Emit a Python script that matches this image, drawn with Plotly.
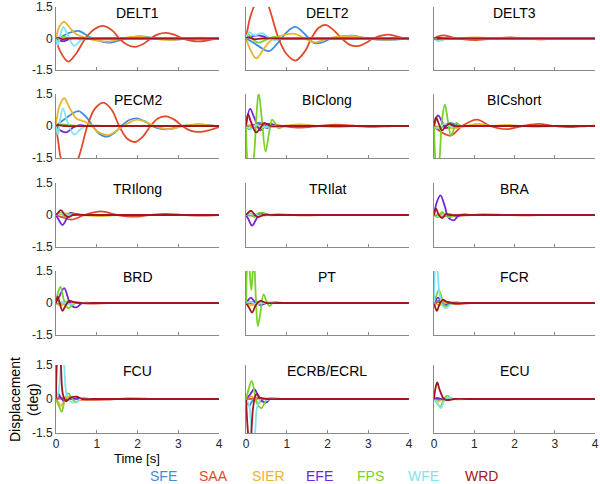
import plotly.graph_objects as go

W, H = 600, 484

SERIES = ["SFE", "SAA", "SIER", "EFE", "FPS", "WFE", "WRD"]
COLORS = ["#3d8ee0", "#e04a2a", "#e8b530", "#7025d8", "#7ad12a", "#80e4f2", "#a3161c"]
PANELS = ["DELT1", "DELT2", "DELT3", "PECM2", "BIClong", "BICshort",
          "TRIlong", "TRIlat", "BRA", "BRD", "PT", "FCR", "FCU", "ECRB/ECRL", "ECU"]
X_TICKS = [0, 1, 2, 3, 4]
Y_TICKS = [-1.5, 0, 1.5]
Y_TICK_TEXT = ["-1.5", "0", "1.5"]

# line at rest (zero) for the rest of the 4 s window
REST = [(1.5, 0), (2.5, 0), (3.5, 0), (4, 0)]

# keypoints (time [s], displacement [deg])
DELT1 = {
    "SFE": [(0,0),(0.1,0.05),(0.3,0.25),(0.55,0.36),(0.85,0.05),(1.3,-0.2),(1.7,0),(2.05,0.1),(2.5,0),(2.9,-0.05),(3.5,0.02),(4,0)],
    "SAA": [(0,0),(0.1,-0.6),(0.3,-1.1),(0.5,-0.7),(0.72,0),(0.95,0.45),(1.16,0.6),(1.4,0.35),(1.55,0),(1.75,-0.3),(1.94,-0.4),(2.15,-0.25),(2.32,0),(2.5,0.2),(2.7,0.27),(2.9,0.18),(3.1,0),(3.3,-0.1),(3.5,-0.14),(3.7,-0.1),(3.9,-0.02),(4,0.02)],
    "SIER": [(0,0),(0.08,0.55),(0.2,0.8),(0.32,0.55),(0.5,0.2),(0.75,0.02),(1.0,-0.1),(1.3,-0.15),(1.6,0),(2.0,0.1),(2.4,0),(2.75,-0.07),(3.2,0),(3.5,0.04),(4,0)],
    "EFE": [(0,0),(0.1,-0.1),(0.2,-0.12),(0.4,0.02),(0.6,0)] + REST,
    "FPS": [(0,0),(0.04,-0.2),(0.1,0.05),(0.2,0.08),(0.35,0),(0.7,0)] + REST,
    "WFE": [(0,0),(0.05,-0.3),(0.1,0.1),(0.18,0.55),(0.28,0.2),(0.45,-0.35),(0.6,-0.1),(0.8,0.05),(1.0,0)] + REST,
    "WRD": [(0,0),(0.05,0.03),(0.15,-0.03),(0.3,0),(0.7,0)] + REST,
}
DELT2 = {
    "SFE": [(0,0),(0.1,-0.1),(0.3,-0.35),(0.56,-0.6),(0.85,-0.05),(1.0,0.3),(1.21,0.55),(1.45,0.2),(1.65,-0.2),(1.85,-0.2),(2.1,0),(2.6,0.13),(3.0,0),(3.4,-0.06),(4,0)],
    "SAA": [(0,0),(0.1,1.0),(0.19,1.5),(0.37,2.3),(0.56,1.5),(0.8,0),(1.0,-0.75),(1.21,-1.05),(1.45,-0.6),(1.6,0),(1.78,0.5),(1.95,0.65),(2.15,0.4),(2.35,0),(2.55,-0.3),(2.75,-0.36),(2.95,-0.2),(3.12,0),(3.35,0.15),(3.5,0.18),(3.7,0.1),(3.9,0),(4,-0.04)],
    "SIER": [(0,0),(0.1,-0.5),(0.25,-0.95),(0.4,-0.6),(0.6,-0.1),(0.8,0.1),(1.0,0.2),(1.2,0.22),(1.45,0),(1.7,-0.18),(2.0,0),(2.6,0.12),(3.0,0),(3.4,-0.05),(4,0)],
    "EFE": [(0,0),(0.15,0.1),(0.3,0.15),(0.5,0.05),(0.7,0)] + REST,
    "FPS": [(0,0),(0.05,0.2),(0.15,0),(0.3,-0.2),(0.5,-0.05),(0.7,0.08),(0.9,0)] + REST,
    "WFE": [(0,0),(0.08,0.3),(0.2,0.15),(0.4,0.25),(0.55,0.05),(0.7,-0.08),(0.9,0)] + REST,
    "WRD": [(0,0),(0.05,0.05),(0.2,-0.03),(0.4,0),(0.8,0)] + REST,
}
DELT3 = {
    "SFE": [(0,0),(0.15,-0.08),(0.3,0),(0.6,0.03),(1,0)] + REST,
    "SAA": [(0,0),(0.1,0.1),(0.25,0.15),(0.45,0.05),(0.7,-0.03),(1.1,-0.07),(1.5,0),(1.9,0.05),(2.3,0),(2.7,-0.04),(3.1,0),(3.5,0.03),(4,0)],
    "SIER": [(0,0),(0.15,-0.1),(0.3,0),(0.6,0.02),(1.1,0.05),(1.5,0),(1.9,-0.03),(2.3,0),(3,0),(4,0)],
    "EFE": [(0,0),(0.1,0.03),(0.3,0),(0.8,0)] + REST,
    "FPS": [(0,0),(0.1,-0.05),(0.25,0),(0.8,0)] + REST,
    "WFE": [(0,0),(0.1,-0.12),(0.2,-0.05),(0.35,0),(0.8,0)] + REST,
    "WRD": [(0,0),(0.8,0)] + REST,
}
PECM2 = {
    "SFE": [(0,0),(0.2,0.3),(0.55,0.7),(0.75,0.4),(0.9,0),(1.05,-0.35),(1.25,-0.5),(1.45,-0.3),(1.6,0),(1.8,0.28),(2.0,0.35),(2.2,0.2),(2.35,0),(2.55,-0.12),(2.75,-0.15),(2.95,-0.08),(3.1,0),(3.5,0.08),(3.9,0),(4,-0.02)],
    "SAA": [(0,0),(0.06,-0.8),(0.12,-1.5),(0.33,-2.3),(0.55,-1.5),(0.77,0),(0.95,0.8),(1.16,1.1),(1.37,0.75),(1.55,0),(1.75,-0.6),(1.94,-0.75),(2.13,-0.5),(2.32,0),(2.5,0.35),(2.7,0.45),(2.9,0.3),(3.1,0),(3.3,-0.22),(3.5,-0.28),(3.75,-0.2),(4,-0.05)],
    "SIER": [(0,0),(0.08,0.9),(0.2,1.3),(0.32,0.9),(0.5,0.35),(0.7,0.2),(0.85,0.05),(1.05,-0.3),(1.3,-0.42),(1.5,-0.2),(1.65,0),(2.0,0.3),(2.3,0.1),(2.5,-0.05),(2.8,-0.15),(3.1,0),(3.5,0.08),(3.9,0),(4,-0.02)],
    "EFE": [(0,0),(0.1,-0.2),(0.25,-0.3),(0.4,-0.1),(0.55,0.03),(0.8,0)] + REST,
    "FPS": [(0,0),(0.03,-0.35),(0.1,0.05),(0.3,0.05),(0.5,0),(0.9,0)] + REST,
    "WFE": [(0,0),(0.05,-0.4),(0.1,0.3),(0.17,0.83),(0.28,0.2),(0.45,-0.4),(0.6,-0.15),(0.75,0),(1.0,0.03),(1.2,0)] + REST,
    "WRD": [(0,0),(0.05,0.05),(0.2,0),(0.7,0)] + REST,
}
BICLONG = {
    "SFE": [(0,0),(0.08,-0.15),(0.2,0.05),(0.35,0.15),(0.5,-0.1),(0.65,0),(1.0,0)] + REST,
    "SAA": [(0,0),(0.2,0.05),(0.5,0.1),(0.9,0),(1.3,-0.08),(1.8,0),(2.2,0.06),(2.7,0),(3.1,-0.04),(3.6,0),(4,0)],
    "SIER": [(0,0),(0.3,-0.05),(0.9,0),(1.3,0.08),(1.8,0),(2.2,-0.05),(2.7,0),(3.3,0),(4,0)],
    "EFE": [(0,0),(0.1,0.8),(0.2,0.4),(0.35,-0.2),(0.5,0.05),(0.6,0.1),(0.75,0),(1.0,0)] + REST,
    "FPS": [(0,0),(0.03,-1.5),(0.1,-2.3),(0.19,-1.5),(0.25,0.3),(0.31,1.55),(0.39,0.3),(0.48,-1.2),(0.56,-0.4),(0.64,0.3),(0.72,0.1),(0.8,-0.1),(0.95,0),(1.1,0)] + REST,
    "WFE": [(0,0),(0.12,-0.15),(0.25,0.05),(0.4,-0.05),(0.55,0),(0.9,0)] + REST,
    "WRD": [(0,0),(0.05,0.55),(0.12,0.2),(0.25,-0.3),(0.35,-0.1),(0.45,0.15),(0.6,0),(0.9,0)] + REST,
}
BICSHORT = {
    "SFE": [(0,0),(0.1,-0.15),(0.2,-0.05),(0.4,0.15),(0.55,0.05),(0.7,0),(1.0,0)] + REST,
    "SAA": [(0,0),(0.15,-0.25),(0.41,-0.45),(0.7,0),(1.07,0.3),(1.4,0),(1.8,-0.15),(2.2,0),(2.6,0.1),(3.0,0),(3.4,-0.05),(3.8,0),(4,0.02)],
    "SIER": [(0,0),(0.2,-0.05),(0.5,-0.1),(0.8,0),(1.1,0.1),(1.4,0),(1.8,0.05),(2.2,0),(2.6,-0.04),(3,0),(4,0)],
    "EFE": [(0,0),(0.1,0.5),(0.2,0.2),(0.3,-0.1),(0.45,0.05),(0.6,0),(0.9,0)] + REST,
    "FPS": [(0,0),(0.03,-1.5),(0.08,-2.5),(0.14,-1.5),(0.2,0.3),(0.27,1.0),(0.34,0.3),(0.42,-0.45),(0.5,-0.1),(0.56,0.15),(0.65,0),(0.9,0)] + REST,
    "WFE": [(0,0),(0.1,-0.1),(0.25,0.1),(0.4,0),(0.8,0)] + REST,
    "WRD": [(0,0),(0.05,0.4),(0.12,0.1),(0.2,-0.2),(0.3,0),(0.38,0.1),(0.5,0),(0.8,0)] + REST,
}
TRILONG = {
    "SFE": [(0,0),(0.1,0.1),(0.25,-0.05),(0.45,0.05),(0.6,0),(0.9,0)] + REST,
    "SAA": [(0,0),(0.15,-0.1),(0.38,-0.22),(0.7,0),(1.1,0.17),(1.5,0),(1.9,-0.08),(2.3,0),(2.7,0.05),(3.1,0),(3.5,-0.03),(4,0)],
    "SIER": [(0,0),(0.15,0.05),(0.4,0.08),(0.7,0),(1.1,-0.05),(1.5,0),(2.5,0),(3.5,0),(4,0)],
    "EFE": [(0,0),(0.06,-0.2),(0.16,-0.47),(0.27,-0.15),(0.35,0.1),(0.45,0.05),(0.6,0),(0.9,0)] + REST,
    "FPS": [(0,0),(0.08,0.12),(0.2,-0.05),(0.35,0.05),(0.5,0),(0.8,0)] + REST,
    "WFE": [(0,0),(0.1,0.08),(0.25,0),(0.6,0)] + REST,
    "WRD": [(0,0),(0.05,0.1),(0.12,0.23),(0.22,0),(0.3,-0.1),(0.42,0),(0.7,0)] + REST,
}
TRILAT = {
    "SFE": [(0,0),(0.1,0.05),(0.3,0),(0.7,0)] + REST,
    "SAA": [(0,0),(0.3,-0.03),(0.8,0.03),(1.4,-0.02),(2.0,0),(2.5,0),(3.5,0),(4,0)],
    "SIER": [(0,0),(0.2,0.03),(0.5,0),(0.9,0)] + REST,
    "EFE": [(0,0),(0.06,-0.2),(0.15,-0.5),(0.25,-0.2),(0.35,0.1),(0.45,0.05),(0.6,0),(0.9,0)] + REST,
    "FPS": [(0,0),(0.08,0.1),(0.2,-0.1),(0.3,0.08),(0.42,0.1),(0.55,0),(0.9,0)] + REST,
    "WFE": [(0,0),(0.15,0.05),(0.35,-0.03),(0.5,0),(0.9,0)] + REST,
    "WRD": [(0,0),(0.05,0.1),(0.12,0.2),(0.22,0),(0.3,-0.1),(0.42,0),(0.7,0)] + REST,
}
BRA = {
    "SFE": [(0,0),(0.15,-0.05),(0.3,0.05),(0.5,0),(0.9,0)] + REST,
    "SAA": [(0,0),(0.3,-0.05),(0.7,-0.03),(1.2,0.03),(1.8,0),(2.3,-0.02),(2.8,0),(3.5,0),(4,0)],
    "SIER": [(0,0),(0.2,0.05),(0.5,0),(0.9,0)] + REST,
    "EFE": [(0,0),(0.07,0.6),(0.16,0.92),(0.27,0.4),(0.35,-0.1),(0.49,-0.25),(0.6,-0.05),(0.75,0.03),(0.9,0),(1.1,0)] + REST,
    "FPS": [(0,0),(0.1,-0.1),(0.2,0.15),(0.3,-0.05),(0.4,-0.1),(0.55,0),(0.9,0)] + REST,
    "WFE": [(0,0),(0.15,-0.05),(0.3,0.05),(0.45,0),(0.8,0)] + REST,
    "WRD": [(0,0),(0.05,0.3),(0.12,0),(0.2,-0.15),(0.3,0.05),(0.4,0),(0.7,0)] + REST,
}
BRD = {
    "SFE": [(0,0),(0.1,-0.1),(0.25,0),(0.4,0.05),(0.6,0),(0.9,0)] + REST,
    "SAA": [(0,0),(0.3,0.03),(0.8,-0.03),(1.3,0),(1.8,0),(2.5,0),(3.5,0),(4,0)],
    "SIER": [(0,0),(0.12,-0.1),(0.3,0.1),(0.5,0),(0.8,0)] + REST,
    "EFE": [(0,0),(0.08,0.3),(0.2,0.7),(0.32,0.1),(0.4,-0.15),(0.5,-0.2),(0.65,0),(0.9,0)] + REST,
    "FPS": [(0,0),(0.05,0.5),(0.11,0.75),(0.2,0.1),(0.3,-0.25),(0.4,-0.1),(0.5,0),(0.8,0)] + REST,
    "WFE": [(0,0),(0.1,0.05),(0.3,-0.05),(0.5,0),(0.8,0)] + REST,
    "WRD": [(0,0),(0.04,0.3),(0.09,0),(0.16,-0.37),(0.24,-0.1),(0.33,0.1),(0.45,0.03),(0.6,0),(0.9,0)] + REST,
}
PT = {
    "SFE": [(0,0),(0.1,0.05),(0.3,-0.05),(0.5,0),(0.8,0)] + REST,
    "SAA": [(0,0),(0.2,-0.03),(0.5,0.02),(1,0)] + REST,
    "SIER": [(0,0),(0.15,-0.1),(0.3,0.05),(0.45,0),(0.8,0)] + REST,
    "EFE": [(0,0),(0.06,0.15),(0.12,0.25),(0.22,0.05),(0.35,-0.1),(0.5,0),(0.8,0)] + REST,
    "FPS": [(0,0),(0.02,1.5),(0.05,2.4),(0.09,1.5),(0.13,0.6),(0.17,1.5),(0.2,1.8),(0.24,0.3),(0.29,-1.08),(0.35,-0.5),(0.43,0.4),(0.5,0.1),(0.58,-0.15),(0.65,0),(0.72,0.05),(0.85,0),(1.1,0)] + REST,
    "WFE": [(0,0),(0.1,0.05),(0.25,-0.05),(0.4,0),(0.8,0)] + REST,
    "WRD": [(0,0),(0.07,-0.2),(0.15,-0.45),(0.24,-0.1),(0.35,0.1),(0.5,0),(0.8,0)] + REST,
}
FCR = {
    "SFE": [(0,0),(0.1,0.1),(0.25,-0.1),(0.4,0),(0.8,0)] + REST,
    "SAA": [(0,0),(0.2,0.05),(0.5,-0.05),(0.9,0),(1.2,0)] + REST,
    "SIER": [(0,0),(0.15,-0.1),(0.35,0.05),(0.5,0),(0.8,0)] + REST,
    "EFE": [(0,0),(0.05,0.15),(0.1,0.25),(0.2,0),(0.3,-0.1),(0.45,0),(0.8,0)] + REST,
    "FPS": [(0,0),(0.05,0.3),(0.12,0.6),(0.2,0.2),(0.28,-0.15),(0.4,-0.05),(0.55,0),(0.9,0)] + REST,
    "WFE": [(0,0),(0.02,1.5),(0.05,2.3),(0.09,1.5),(0.14,0.4),(0.22,-0.15),(0.3,-0.25),(0.42,-0.05),(0.55,0.03),(0.7,0),(1.0,0)] + REST,
    "WRD": [(0,0),(0.03,-0.2),(0.07,-0.37),(0.14,-0.05),(0.22,0.15),(0.32,0.05),(0.45,0),(0.8,0)] + REST,
}
FCU = {
    "SFE": [(0,0),(0.08,0.1),(0.2,-0.05),(0.35,0),(0.7,0)] + REST,
    "SAA": [(0,0),(0.3,0.05),(0.6,-0.03),(1.2,-0.03),(1.8,0.03),(2.5,0),(3.5,0),(4,0)],
    "SIER": [(0,0),(0.06,-0.15),(0.12,-0.3),(0.22,0),(0.3,0.1),(0.45,0),(0.8,0)] + REST,
    "EFE": [(0,0),(0.05,0.25),(0.12,0.05),(0.2,-0.1),(0.3,0),(0.7,0)] + REST,
    "FPS": [(0,0),(0.07,-0.3),(0.14,-0.56),(0.22,0),(0.3,0.25),(0.4,0),(0.5,-0.15),(0.6,0),(0.7,0.05),(0.8,0),(1.1,0)] + REST,
    "WFE": [(0,0),(0.06,0.3),(0.12,1.5),(0.16,2.2),(0.2,1.5),(0.26,0.2),(0.35,-0.1),(0.5,-0.15),(0.6,0),(0.9,0)] + REST,
    "WRD": [(0,0),(0.02,1.5),(0.07,2.4),(0.12,1.5),(0.17,0.2),(0.25,-0.1),(0.35,0.05),(0.5,0.1),(0.65,0),(0.9,0)] + REST,
}
ECRB = {
    "SFE": [(0,0),(0.08,-0.3),(0.15,-0.1),(0.3,0.05),(0.45,0),(0.8,0)] + REST,
    "SAA": [(0,0),(0.3,0.02),(0.8,0)] + REST,
    "SIER": [(0,0),(0.15,0.1),(0.3,-0.2),(0.45,0),(0.8,0)] + REST,
    "EFE": [(0,0),(0.1,0.2),(0.2,0.43),(0.3,0.15),(0.4,-0.1),(0.5,-0.15),(0.6,0),(0.9,0)] + REST,
    "FPS": [(0,0),(0.06,0.4),(0.14,0.8),(0.22,0.2),(0.3,-0.3),(0.38,-0.4),(0.48,-0.1),(0.6,0.05),(0.75,0),(1.0,0)] + REST,
    "WFE": [(0,0),(0.08,-0.3),(0.14,-1.5),(0.18,-1.8),(0.22,-1.5),(0.28,-0.3),(0.4,0.05),(0.5,-0.05),(0.6,0),(0.9,0)] + REST,
    "WRD": [(0,0),(0.03,-1.0),(0.05,-1.5),(0.09,-2.3),(0.13,-1.5),(0.18,-0.3),(0.25,0.2),(0.35,0.05),(0.5,0),(0.8,0)] + REST,
}
ECU = {
    "SFE": [(0,0),(0.1,-0.05),(0.25,0),(0.6,0)] + REST,
    "SAA": [(0,0),(0.2,0.02),(0.6,0)] + REST,
    "SIER": [(0,0),(0.12,-0.1),(0.25,0.05),(0.4,0),(0.7,0)] + REST,
    "EFE": [(0,0),(0.08,0.05),(0.18,0),(0.3,-0.05),(0.4,0),(0.7,0)] + REST,
    "FPS": [(0,0),(0.08,-0.2),(0.15,-0.35),(0.25,0),(0.33,0.15),(0.45,0),(0.8,0)] + REST,
    "WFE": [(0,0),(0.08,-0.15),(0.17,-0.4),(0.25,-0.1),(0.35,0.05),(0.5,0),(0.8,0)] + REST,
    "WRD": [(0,0),(0.04,0.5),(0.08,0.73),(0.14,0.4),(0.25,0),(0.35,-0.05),(0.5,0),(0.8,0)] + REST,
}
PANEL_DATA = [DELT1, DELT2, DELT3, PECM2, BICLONG, BICSHORT, TRILONG, TRILAT, BRA,
              BRD, PT, FCR, FCU, ECRB, ECU]

# layout geometry (pixels)
COL_X = [(56, 219), (246, 409), (434, 595)]
ROW_Y = [(7, 70), (94, 158), (183, 247), (271, 335), (365, 433)]

FONT = "Liberation Sans, Arial, sans-serif"
AXIS_COLOR = "#8a8a8a"

fig = go.Figure()
layout = dict(
    template="none",
    width=W, height=H, margin=dict(l=0, r=0, t=0, b=0, pad=0), autosize=False,
    paper_bgcolor="white", plot_bgcolor="white", showlegend=False,
    font=dict(family=FONT, size=12, color="#262626"),
)
annotations = []

for i, (name, data) in enumerate(zip(PANELS, PANEL_DATA)):
    r, c = divmod(i, 3)
    k = "" if i == 0 else str(i + 1)
    x0, x1 = COL_X[c]
    y0, y1 = ROW_Y[r]
    for s, col in zip(SERIES, COLORS):
        pts = data[s]
        fig.add_trace(go.Scatter(
            x=[p[0] for p in pts], y=[p[1] for p in pts], mode="lines",
            line=dict(color=col, width=1.8, shape="spline", smoothing=1.0),
            xaxis="x" + k, yaxis="y" + k, hoverinfo="skip"))
    layout["xaxis" + k] = dict(
        domain=[x0 / W, x1 / W], range=[0, 4], anchor="y" + k, automargin=False,
        tickvals=X_TICKS, showticklabels=(r == 4), ticks="inside", ticklen=3,
        tickcolor=AXIS_COLOR, showline=True, linecolor=AXIS_COLOR, linewidth=1,
        showgrid=False, zeroline=False, ticklabeloverflow="allow",
        tickfont=dict(size=12, color="#262626"))
    layout["yaxis" + k] = dict(
        domain=[1 - y1 / H, 1 - y0 / H], range=[-1.5, 1.5], anchor="x" + k,
        automargin=False, ticklabeloverflow="allow",
        tickvals=Y_TICKS, ticktext=Y_TICK_TEXT, showticklabels=(c == 0),
        ticks="inside", ticklen=3, tickcolor=AXIS_COLOR, showline=True,
        linecolor=AXIS_COLOR, linewidth=1, showgrid=False, zeroline=False,
        tickfont=dict(size=12, color="#262626"))
    annotations.append(dict(
        text=name, x=(x0 + x1) / 2 / W, y=1 - (y0 + 6) / H, xref="paper", yref="paper",
        xanchor="center", yanchor="middle", showarrow=False,
        font=dict(size=14, color="black", family=FONT)))

annotations.append(dict(text="Time [s]", x=137 / W, y=1 - 458 / H, xref="paper", yref="paper",
                        showarrow=False, xanchor="center", yanchor="middle",
                        font=dict(size=13, color="black", family=FONT)))
annotations.append(dict(text="Displacement<br>(deg)", x=24 / W, y=1 - 400 / H, xref="paper",
                        yref="paper", showarrow=False, textangle=-90, xanchor="center",
                        yanchor="middle", font=dict(size=14, color="black", family=FONT)))

LEGEND_X = [163, 213, 268, 319, 370, 423, 481]
for s, col, lx in zip(SERIES, COLORS, LEGEND_X):
    annotations.append(dict(text=s, x=lx / W, y=1 - 476 / H, xref="paper", yref="paper",
                            showarrow=False, xanchor="center", yanchor="middle",
                            font=dict(size=14, color=col, family=FONT)))

layout["annotations"] = annotations
fig.update_layout(**layout)
fig.write_html("out.html", config={"displayModeBar": False},
               post_script="document.body.style.margin='0px';document.body.style.overflow='hidden';")
